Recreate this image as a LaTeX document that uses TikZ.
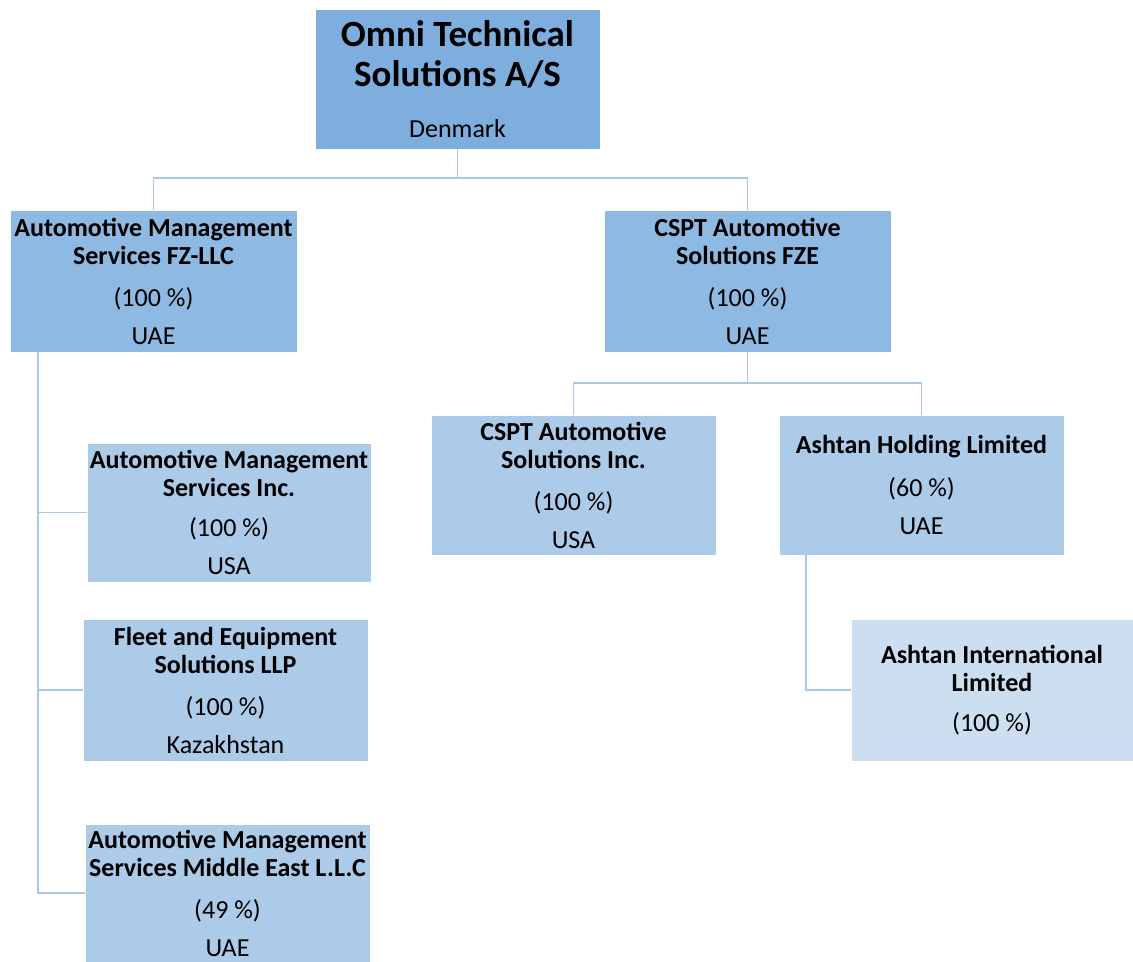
\documentclass[tikz,border=0pt]{standalone}
\usepackage{fontspec}
\setmainfont{Carlito}
\definecolor{cTop}{RGB}{126,174,222}
\definecolor{cOne}{RGB}{141,185,226}
\definecolor{cTwo}{RGB}{172,203,233}
\definecolor{cThree}{RGB}{204,223,241}
\definecolor{cLine}{RGB}{170,198,232}
\tikzset{
  box/.style={rectangle, inner sep=0pt, align=center, draw=white, line width=0.6pt,
    minimum width=213.75pt, minimum height=105pt,
    font=\fontsize{19.5}{21}\selectfont},
  topbox/.style={box, fill=cTop, minimum width=213.75pt, minimum height=105pt,
    font=\fontsize{27.75}{30}\selectfont},
  lvlone/.style={box, fill=cOne},
  lvltwo/.style={box, fill=cTwo},
  lvlthree/.style={box, fill=cThree},
  conn/.style={draw=cLine, line width=1.4pt}
}
\begin{document}
\begin{tikzpicture}[x=0.75pt,y=-0.75pt]
\useasboundingbox (0,0) rectangle (1133,962);
\node[topbox] (omni) at (457.5,79)
  {\bfseries Omni Technical\\\bfseries Solutions A/S\\[8pt]{\fontsize{19.5}{21}\selectfont Denmark}};
\node[lvlone, minimum width=215.25pt, minimum height=106.5pt] (amsfz) at (153.5,281)
  {\bfseries Automotive Management\\\bfseries Services FZ-LLC\\[10.5pt](100 \%)\\[7.5pt]UAE};
\node[lvlone, minimum width=215.25pt, minimum height=106.5pt] (csfze) at (747.5,281)
  {\bfseries CSPT Automotive\\\bfseries Solutions FZE\\[10.5pt](100 \%)\\[7.5pt]UAE};
\node[lvltwo, minimum width=213.75pt, minimum height=105pt] (csinc) at (573.5,485)
  {\bfseries CSPT Automotive\\\bfseries Solutions Inc.\\[10.5pt](100 \%)\\[7.5pt]USA};
\node[lvltwo, minimum width=213.75pt, minimum height=105pt] (ashh) at (921.5,485)
  {\bfseries Ashtan Holding Limited\\[11pt](60 \%)\\[7.5pt]UAE};
\node[lvltwo, minimum width=213pt, minimum height=104.25pt] (amsinc) at (229,512.5)
  {\bfseries Automotive Management\\\bfseries Services Inc.\\[9pt](100 \%)\\[7.5pt]USA};
\node[lvltwo, minimum width=213.75pt, minimum height=106.5pt] (fleet) at (225.5,690)
  {\bfseries Fleet and Equipment\\\bfseries Solutions LLP\\[10.5pt](100 \%)\\[7.5pt]Kazakhstan};
\node[lvltwo, minimum width=213.75pt, minimum height=103.5pt] (amsme) at (227.5,893)
  {\bfseries Automotive Management\\\bfseries Services Middle East L.L.C\\[10.5pt](49 \%)\\[7.5pt]UAE};
\node[lvlthree, minimum width=211.5pt, minimum height=106.5pt] (ashi) at (992,690)
  {\bfseries Ashtan International\\\bfseries Limited\\[9pt](100 \%)};
% connectors
\draw[conn] (omni.south) -- ++(0,29) -| (amsfz.north);
\draw[conn] (omni.south) -- ++(0,29) -| (csfze.north);
\draw[conn] (csfze.south) -- ++(0,31) -| (csinc.north);
\draw[conn] (csfze.south) -- ++(0,31) -| (ashh.north);
\draw[conn] ([xshift=21pt]amsfz.south west) |- (amsinc.west);
\draw[conn] ([xshift=21pt]amsfz.south west) |- (fleet.west);
\draw[conn] ([xshift=21pt]amsfz.south west) |- (amsme.west);
\draw[conn] ([xshift=20.25pt]ashh.south west) |- (ashi.west);
\end{tikzpicture}
\end{document}
